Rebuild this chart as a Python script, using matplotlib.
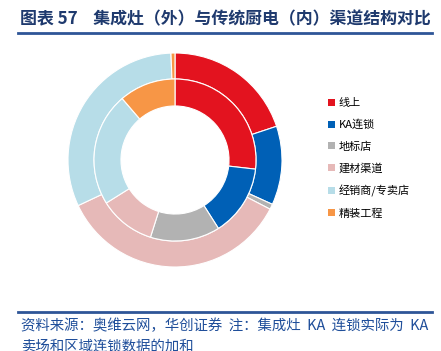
import matplotlib
matplotlib.use('Agg')
import matplotlib.pyplot as plt
from matplotlib.lines import Line2D

plt.rcParams['font.family'] = ['Noto Sans CJK SC', 'DejaVu Sans']

# categories and shares (%)
labels = ['线上', 'KA连锁', '地标店', '建材渠道', '经销商/专卖店', '精装工程']
colors = ['#E3131F', '#0060B6', '#B2B2B2', '#E6B9B8', '#B7DDE8', '#F79646']
outer_vals = [19.9, 11.9, 0.8, 35.4, 31.4, 0.6]    # 集成灶（外）
inner_vals = [26.8, 14.2, 13.9, 11.2, 22.6, 11.3]  # 传统厨电（内）

W, H = 441, 351
fig = plt.figure(figsize=(W / 100, H / 100), dpi=100)

# pie axes, centre at (175,160) px, outer radius 107 px
cx, cy, R, half = 175, 160, 107, 112
ax = fig.add_axes([(cx - half) / W, (H - cy - half) / H, 2 * half / W, 2 * half / H])

wedge_kw = dict(edgecolor='white', linewidth=0.8)
ax.pie(outer_vals, radius=1.0, colors=colors, startangle=90, counterclock=False,
       wedgeprops=dict(width=0.243, **wedge_kw))
ax.pie(inner_vals, radius=0.757, colors=colors, startangle=90, counterclock=False,
       wedgeprops=dict(width=0.252, **wedge_kw))
ax.set_xlim(-half / R, half / R)
ax.set_ylim(-half / R, half / R)
ax.set_aspect('equal')
ax.axis('off')

handles = [plt.Rectangle((0, 0), 1, 1, facecolor=c, edgecolor='none') for c in colors]
fig.legend(handles, labels, loc='upper left', bbox_to_anchor=(328 / W, 1 - 98 / H),
           frameon=False, fontsize=8, handlelength=0.6, handleheight=0.6,
           handletextpad=0.35, labelspacing=1.02, borderaxespad=0, borderpad=0)

# title and rules
navy = '#1F3A6E'
fig.text(20 / W, 1 - 19 / H, '图表 57    集成灶（外）与传统厨电（内）渠道结构对比',
         fontsize=12.2, fontweight='bold', color=navy, va='center', ha='left')
fig.add_artist(Line2D([18 / W, 432 / W], [1 - 33 / H, 1 - 33 / H], color='#2E5597', lw=2))
fig.add_artist(Line2D([18 / W, 432 / W], [1 - 311.5 / H, 1 - 311.5 / H], color='#2E5597', lw=2))

fig.text(21 / W, 1 - 326 / H, '资料来源：奥维云网，华创证券  注：集成灶  KA  连锁实际为  KA',
         fontsize=10.4, color='#1F4E9A', va='center', ha='left')
fig.text(21 / W, 1 - 347 / H, '卖场和区域连锁数据的加和',
         fontsize=10.4, color='#1F4E9A', va='center', ha='left')

fig.savefig('out.png', dpi=100)
